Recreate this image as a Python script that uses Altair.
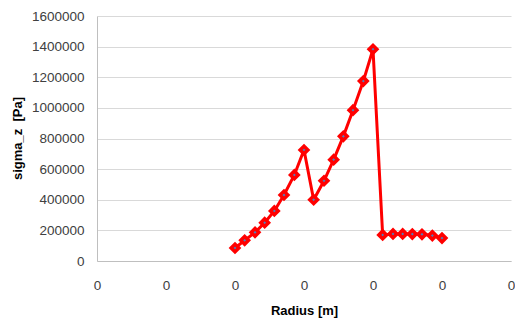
import altair as alt
import pandas as pd

# Radius positions [m] and axial stress sigma_z [Pa]
radius = [0.0200, 0.0214, 0.0229, 0.0243, 0.0257, 0.0271, 0.0286, 0.0300,
          0.0314, 0.0329, 0.0343, 0.0357, 0.0371, 0.0386, 0.0400, 0.0414,
          0.0429, 0.0443, 0.0457, 0.0471, 0.0486, 0.0500]
sigma_z = [85000, 135000, 187000, 250000, 327000, 431000, 562000, 725000,
           400000, 524000, 662000, 814000, 985000, 1175000, 1383000, 170000,
           177000, 177000, 176000, 174000, 166000, 150000]

x_ticks = [0.0, 0.01, 0.02, 0.03, 0.04, 0.05, 0.06]
y_ticks = [0, 200000, 400000, 600000, 800000, 1000000, 1200000, 1400000, 1600000]

df = pd.DataFrame({"radius": radius, "sigma_z": sigma_z})

font = "Liberation Sans"

x_enc = alt.X(
    "radius:Q",
    scale=alt.Scale(domain=[0, 0.06], nice=False, zero=False),
    axis=alt.Axis(
        values=x_ticks, format=".0f", title="Radius [m]", grid=False,
        ticks=False, labelPadding=17, labelFontSize=13.5, labelColor="#404040",
        labelFont=font, labelFlush=False, labelOverlap=False, labelBound=False,
        domainColor="#BFBFBF", domainWidth=1,
        titleFont=font, titleFontSize=13, titleFontWeight="bold",
        titleColor="#000000", titleY=49, titleBaseline="middle",
    ),
)
y_enc = alt.Y(
    "sigma_z:Q",
    scale=alt.Scale(domain=[0, 1600000], nice=False),
    axis=alt.Axis(
        values=y_ticks, format="d", title="sigma_z \u00a0[Pa]", grid=True,
        gridColor="#D9D9D9", gridWidth=1, ticks=False, labelPadding=13,
        labelFontSize=13.5, labelColor="#404040", labelFont=font,
        labelOverlap=False, labelFlush=False, labelBound=False,
        domainColor="#BFBFBF", domainWidth=1,
        titleFont=font, titleFontSize=13, titleFontWeight="bold",
        titleColor="#000000", titleX=-80, titleY=122, titleAngle=-90,
        titleBaseline="middle", titleAlign="center",
    ),
)

base = alt.Chart(df).encode(x=x_enc, y=y_enc)
line = base.mark_line(color="#FF0000", strokeWidth=3)
points = base.mark_point(
    shape="diamond", filled=True, fill="#4F81BD", stroke="#FF0000",
    strokeWidth=3.5, size=60, opacity=1,
)

chart = (
    alt.layer(line, points)
    .properties(
        width=414, height=245,
        autosize=alt.AutoSizeParams(type="none"),
        padding={"left": 97, "top": 16, "right": 4, "bottom": 64},
        background="#FFFFFF",
    )
    .configure_view(stroke=None)
)

chart.save("out.html", embed_options={"renderer": "svg", "actions": False})
